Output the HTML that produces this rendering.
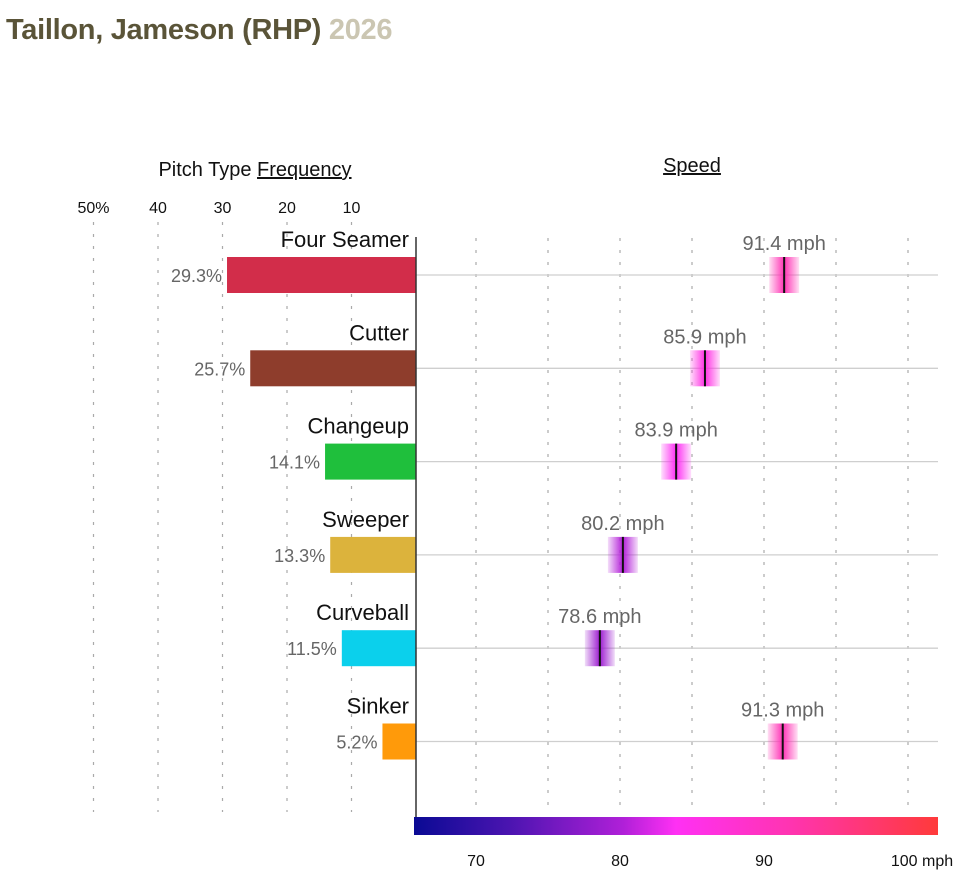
<!DOCTYPE html>
<html><head><meta charset="utf-8">
<style>
body{margin:0;background:#fff;width:960px;height:887px;overflow:hidden;font-family:"Liberation Sans",sans-serif}
.title{position:absolute;left:6px;top:14px;font-size:29px;font-weight:bold;color:#5a5438;letter-spacing:-0.3px}
.title span{color:#cbc6b2}
</style></head><body>
<div class="title">Taillon, Jameson (RHP) <span>2026</span></div>
<svg id="chart" width="960" height="887" style="position:absolute;left:0;top:0">
<defs>
<linearGradient id="cbar" x1="0" x2="1" y1="0" y2="0">
<stop offset="0" stop-color="#0a0a94"/><stop offset="0.18" stop-color="#4a14b0"/><stop offset="0.4" stop-color="#b020d8"/><stop offset="0.5" stop-color="#ff30f4"/><stop offset="0.72" stop-color="#ff34b0"/><stop offset="1" stop-color="#ff3a3a"/>
</linearGradient>
</defs>
</svg>
<script>
const pitches=["Four Seamer","Cutter","Changeup","Sweeper","Curveball","Sinker"];
const freqs=[29.3,25.7,14.1,13.3,11.5,5.2];
const speeds=[91.4,85.9,83.9,80.2,78.6,91.3];
const barColors=["#d22d4a","#8e3d2c","#1fbf3c","#dcb33c","#0bd0ec","#ff9a0a"];
const freqTicks=[50,40,30,20,10];
const freqTickLabels=["50%","40","30","20","10"];
const speedGrid=[70,75,80,85,90,95,100];
const speedTicks=[70,80,90,100];
const speedTickLabels=["70","80","90","100 mph"];

const NS="http://www.w3.org/2000/svg";
const svg=document.getElementById('chart');
const fx=v=>416-v*6.45;
const sx=v=>476+(v-70)*14.4;
const rowY=i=>275+i*93.3;
function mk(t,a,txt){const e=document.createElementNS(NS,t);for(const k in a)e.setAttribute(k,a[k]);if(txt!=null)e.textContent=txt;svg.appendChild(e);return e;}
const cond='"Liberation Sans Narrow","Liberation Sans",sans-serif';

let e;
e=mk('text',{x:255,y:176,'text-anchor':'middle','font-size':20,'font-family':cond,fill:'#111'});
e.innerHTML='Pitch Type <tspan text-decoration="underline">Frequency</tspan>';


e=mk('text',{x:692,y:172,'text-anchor':'middle','font-size':20,'font-family':cond,fill:'#111','text-decoration':'underline'},'Speed');



freqTicks.forEach((t,i)=>{
  e=mk('line',{x1:fx(t),x2:fx(t),y1:222,y2:812,stroke:'#aaa','stroke-dasharray':'3,9','stroke-width':1.2});
  
  
  e=mk('text',{x:fx(t),y:213,'text-anchor':'middle','font-size':16,fill:'#111'},freqTickLabels[i]);
  
  
});
speedGrid.forEach(t=>{
  e=mk('line',{x1:sx(t),x2:sx(t),y1:238,y2:812,stroke:'#aaa','stroke-dasharray':'3,9','stroke-width':1.2});
  
  
});

function speedColor(v){
  const st=[[65.7,[10,10,148]],[72,[74,20,176]],[80,[176,32,216]],[84,[255,48,244]],[92,[255,52,176]],[102,[255,58,58]]];
  for(let i=0;i<st.length-1;i++){if(v<=st[i+1][0]){const f=(v-st[i][0])/(st[i+1][0]-st[i][0]);const c=st[i][1].map((a,j)=>Math.round(a+(st[i+1][1][j]-a)*f));return `rgb(${c})`;}}
  return 'rgb(255,58,58)';
}
const defs=svg.querySelector('defs');

pitches.forEach((p,i)=>{
  const y=rowY(i);
  e=mk('line',{x1:416,x2:938,y1:y,y2:y,stroke:'#cfcfcf','stroke-width':1.3});
  
  
  e=mk('rect',{x:fx(freqs[i]),y:y-18,width:416-fx(freqs[i]),height:36,fill:barColors[i]});
  
  
  e=mk('text',{x:fx(freqs[i])-5,y:y+7,'text-anchor':'end','font-size':18,'font-family':cond,fill:'#666'},freqs[i].toFixed(1)+'%');
  
  
  e=mk('text',{x:409,y:y-28,'text-anchor':'end','font-size':22,'font-family':cond,fill:'#111'},p);
  
  
  const c=speedColor(speeds[i]);
  const g=document.createElementNS(NS,'linearGradient');g.id='g'+i;
  g.innerHTML=`<stop offset="0" stop-color="${c}" stop-opacity="0.15"/><stop offset="0.5" stop-color="${c}" stop-opacity="1"/><stop offset="1" stop-color="${c}" stop-opacity="0.15"/>`;
  defs.appendChild(g);
  const x=sx(speeds[i]);
  e=mk('rect',{x:x-15,y:y-18,width:30,height:36,fill:`url(#g${i})`});
  
  
  e=mk('line',{x1:x,x2:x,y1:y-18,y2:y+18,stroke:'#111','stroke-width':2});
  
  
  e=mk('text',{x:x,y:y-25,'text-anchor':'middle','font-size':20,'font-family':cond,fill:'#666'},speeds[i].toFixed(1)+' mph');
  
  
});

e=mk('line',{x1:416,x2:416,y1:237,y2:817,stroke:'#333','stroke-width':1.5});


e=mk('rect',{x:414,y:817,width:524,height:18,fill:'url(#cbar)'});


speedTicks.forEach((t,i)=>{
  e=mk('text',{x:sx(t)+(i==3?14:0),y:866,'text-anchor':'middle','font-size':16,fill:'#111'},speedTickLabels[i]);
  
  
});
</script>
</body></html>
